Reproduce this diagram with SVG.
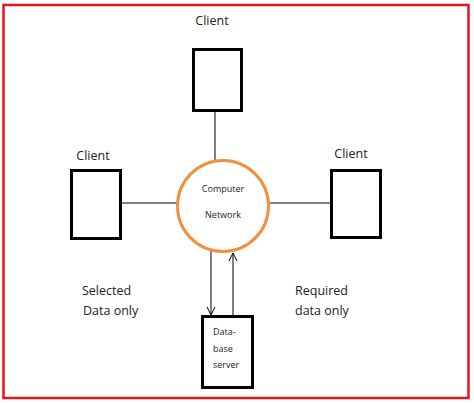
<svg xmlns="http://www.w3.org/2000/svg" width="474" height="403" viewBox="0 0 474 403">
<defs>
<style>
.box{fill:#fff;stroke:#000;stroke-width:3}
.ln{stroke:#000;stroke-width:1;fill:none}
.lbl{font-family:"Open Sans","Liberation Sans",sans-serif;font-size:12.5px;fill:#222}
.sm{font-family:"Open Sans","Liberation Sans",sans-serif;font-size:9px;fill:#222}
</style>
<marker id="arr" markerWidth="10" markerHeight="10" refX="9" refY="5" orient="auto" markerUnits="userSpaceOnUse" viewBox="0 0 10 10">
<path d="M1,1 L9,5 L1,9" fill="none" stroke="#000" stroke-width="1"/>
</marker>
</defs>
<rect x="0" y="0" width="474" height="403" fill="#fff"/>
<rect x="3.5" y="5" width="465" height="393" fill="none" stroke="#e3151d" stroke-width="2.5"/>
<g id="connectors">
<line class="ln" x1="215" y1="111" x2="215" y2="161"/>
<line class="ln" x1="121" y1="203" x2="177" y2="203"/>
<line class="ln" x1="269" y1="203" x2="331" y2="203"/>
<line class="ln" x1="211" y1="251" x2="211" y2="315" marker-end="url(#arr)"/>
<line class="ln" x1="233" y1="316" x2="233" y2="253" marker-end="url(#arr)"/>
</g>
<g id="network">
<circle cx="223" cy="206" r="45.5" fill="#fff" stroke="#f0913f" stroke-width="3"/>
<text class="sm" x="223" y="192" text-anchor="middle">Computer</text>
<text class="sm" x="223" y="218" text-anchor="middle">Network</text>
</g>
<g id="client-top">
<rect class="box" x="193.5" y="49.5" width="48" height="61"/>
<text class="lbl" x="212" y="25" text-anchor="middle">Client</text>
</g>
<g id="client-left">
<rect class="box" x="71.5" y="170.5" width="49" height="68"/>
<text class="lbl" x="93" y="160" text-anchor="middle">Client</text>
</g>
<g id="client-right">
<rect class="box" x="331.5" y="170.5" width="49" height="67"/>
<text class="lbl" x="351" y="158" text-anchor="middle">Client</text>
</g>
<g id="database">
<rect class="box" x="202.5" y="316.5" width="50" height="71"/>
<text class="sm" x="213" y="335">Data-</text>
<text class="sm" x="213" y="352">base</text>
<text class="sm" x="213" y="368">server</text>
</g>
<g id="labels">
<text class="lbl" x="82" y="295">Selected</text>
<text class="lbl" x="83" y="315">Data only</text>
<text class="lbl" x="295" y="295">Required</text>
<text class="lbl" x="295" y="315">data only</text>
</g>
</svg>
